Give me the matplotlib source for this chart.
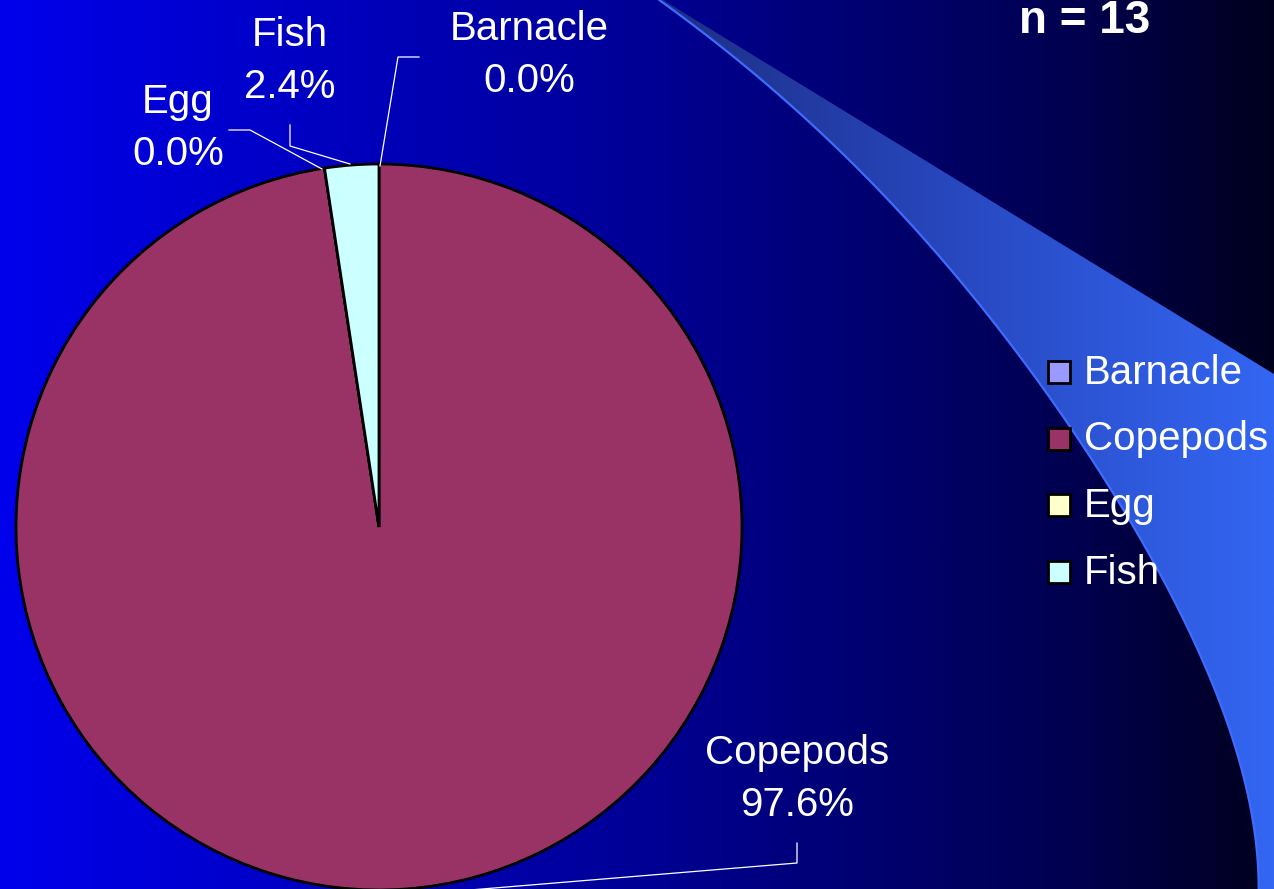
import numpy as np
import matplotlib
matplotlib.use("Agg")
import matplotlib.pyplot as plt
from matplotlib.patches import Polygon, Rectangle
from matplotlib.colors import LinearSegmentedColormap

# ---- data ----
categories = ["Barnacle", "Copepods", "Egg", "Fish"]
percentages = [0.0, 97.6, 0.0, 2.4]
colors = ["#9999FF", "#993366", "#FFFFCC", "#CCFFFF"]
sample_label = "n = 13"

W, H = 1274, 889
plt.rcParams['font.family'] = ['Liberation Sans', 'DejaVu Sans']
fig = plt.figure(figsize=(W / 100, H / 100), dpi=100)

# ---- background (pixel coords) ----
bg = fig.add_axes([0, 0, 1, 1])
bg.axis('off')
bg_cmap = LinearSegmentedColormap.from_list(
    "bg", [(0.0, "#0000EC"), (0.5, "#000096"), (0.85, "#00004E"), (1.0, "#00001E")])
grad = np.linspace(0, 1, 512)[None, :]
bg.imshow(grad, cmap=bg_cmap, extent=[0, W, H, 0], aspect='auto', zorder=0)

# decorative swoosh: smooth edge through traced guide points
guide_y = np.array([0, 67, 130, 200, 280, 360, 462, 583, 683, 783, 889], float)
guide_x = np.array([655, 753, 820, 887, 953, 1020, 1100, 1167, 1210, 1243, 1260], float)
coef = np.polyfit(guide_y, guide_x, 4)
cy_s = np.linspace(0, H, 300)
cx_s = np.polyval(coef, cy_s)
curve = np.column_stack([cx_s, cy_s])
swoosh_pts = np.vstack([curve, [(1300, 889), (1300, 374), (1274, 374), (663, 0)]])
sw_cmap = LinearSegmentedColormap.from_list(
    "sw", [(0.0, "#1C2C80"), (0.5, "#2848C0"), (1.0, "#3366F2")])
poly = Polygon(swoosh_pts, closed=True, facecolor='none', edgecolor='none')
bg.add_patch(poly)
im = bg.imshow(np.linspace(0, 1, 256)[None, :], cmap=sw_cmap,
               extent=[640, W, H, 0], aspect='auto', zorder=1)
im.set_clip_path(poly)
bg.plot(curve[:, 0], curve[:, 1], color="#3D6CFF", lw=1.6, zorder=2)
bg.set_xlim(0, W)
bg.set_ylim(H, 0)

# ---- pie ----
cx, cy, r = 379, 527, 363
ax = fig.add_axes([(cx - r) / W, (H - cy - r) / H, 2 * r / W, 2 * r / H])
ax.patch.set_alpha(0)
ax.pie(percentages, colors=colors, startangle=90, counterclock=False, radius=1,
       wedgeprops=dict(edgecolor='black', linewidth=2.0))
ax.set_xlim(-1, 1)
ax.set_ylim(-1, 1)
ax.set_aspect('equal')
ax.axis('off')

# ---- labels with leader lines (pixel coords) ----
fs = 29
label_pos = {"Barnacle": (529, 55), "Copepods": (797, 779), "Egg": (178, 128), "Fish": (290, 61)}
leaders = {
    "Barnacle": [(380, 166), (398, 57), (419, 57)],
    "Copepods": [(470, 890), (797, 863), (797, 843)],
    "Egg": [(322, 169), (250, 130), (229, 130)],
    "Fish": [(350, 164), (290, 146), (290, 125)],
}
txt_ax = fig.add_axes([0, 0, 1, 1])
txt_ax.set_xlim(0, W)
txt_ax.set_ylim(H, 0)
txt_ax.axis('off')
txt_ax.patch.set_alpha(0)
for cat, val in zip(categories, percentages):
    x, y = label_pos[cat]
    txt_ax.text(x, y, f"{cat}\n{val:.1f}%", color='white', fontsize=fs,
                ha='center', va='center', linespacing=1.45, multialignment='center')
    pts = leaders[cat]
    txt_ax.plot([p[0] for p in pts], [p[1] for p in pts], color='white', lw=0.9,
                clip_on=False)

# n label
txt_ax.text(1085, 33, sample_label, color='white', fontsize=33, fontweight='bold',
            ha='center', va='baseline')

# ---- legend ----
lx, ly0, dy, sq = 1048, 372, 66.5, 22
for i, (cat, col) in enumerate(zip(categories, colors)):
    yc = ly0 + i * dy
    txt_ax.add_patch(Rectangle((lx, yc - sq / 2), sq, sq, facecolor=col,
                               edgecolor='black', linewidth=2.0, zorder=5))
    txt_ax.text(lx + sq + 14, yc + 1, cat, color='white', fontsize=fs,
                ha='left', va='center', zorder=5)

fig.savefig("out.png", dpi=100)
